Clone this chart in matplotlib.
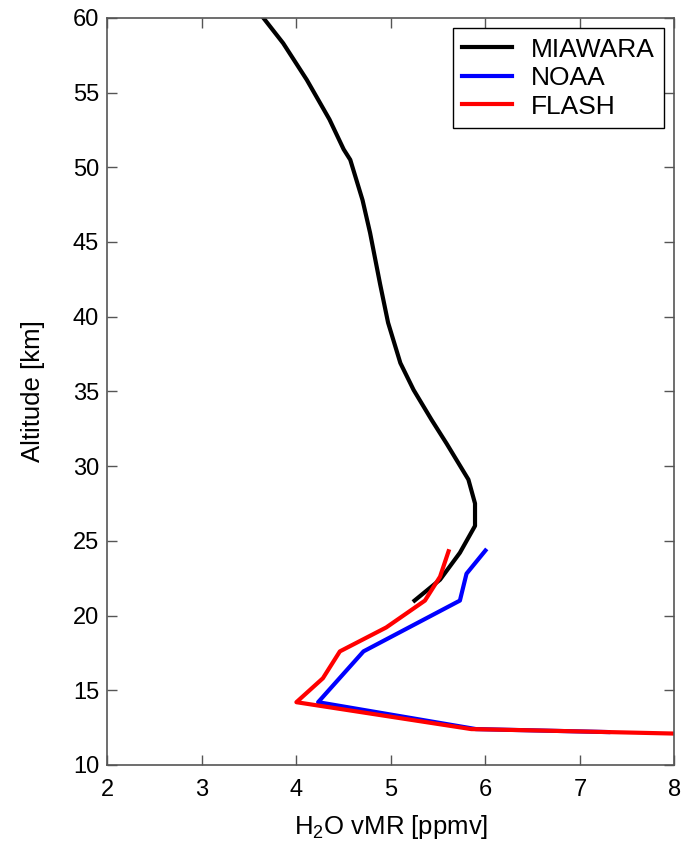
import matplotlib
matplotlib.use('Agg')
import matplotlib.pyplot as plt

plt.rcParams['font.family'] = ['Liberation Sans', 'DejaVu Sans']
plt.rcParams['mathtext.default'] = 'regular'

# MIAWARA profile (altitude in km, H2O vmr in ppmv)
miawara_alt = [60, 58.3, 55.85, 53.2, 51.2, 50.5, 47.8, 45.6, 42.2, 39.6, 36.9, 35.1, 33.1, 31.5,
               29.1, 27.5, 26.0, 24.2, 22.4, 21.0]
miawara_h2o = [3.65, 3.86, 4.11, 4.35, 4.50, 4.57, 4.70, 4.78, 4.885, 4.97, 5.10, 5.24, 5.43, 5.59,
               5.82, 5.89, 5.89, 5.73, 5.52, 5.25]

# NOAA frost point hygrometer
noaa_alt = [24.35, 22.8, 21.0, 17.6, 14.2, 12.4, 12.3, 12.2]
noaa_h2o = [6.0, 5.80, 5.73, 4.71, 4.23, 5.9, 6.6, 7.3]

# FLASH
flash_alt = [24.3, 22.6, 21.0, 19.2, 17.6, 15.8, 14.2, 12.4, 12.3, 12.2, 12.1]
flash_h2o = [5.61, 5.52, 5.36, 4.95, 4.46, 4.28, 4.0, 5.85, 6.6, 7.3, 8.0]

fig = plt.figure(figsize=(6.84, 8.49), dpi=100)
ax = fig.add_axes([0.157, 0.099, 0.829, 0.880])

ax.plot(miawara_h2o, miawara_alt, color='k', lw=3, label='MIAWARA')
ax.plot(noaa_h2o, noaa_alt, color='b', lw=3, label='NOAA')
ax.plot(flash_h2o, flash_alt, color='r', lw=3, label='FLASH')

ax.set_xlim(2, 8)
ax.set_ylim(10, 60)
ax.set_xticks(range(2, 9))
ax.set_yticks(range(10, 61, 5))
ax.tick_params(direction='in', length=7, width=1, labelsize=17, top=True, right=True,
               colors='#555555', labelcolor='black')
ax.tick_params(axis='x', pad=10)
ax.tick_params(axis='y', pad=6)
for s in ax.spines.values():
    s.set_color('#555555')
    s.set_linewidth(1.2)

ax.set_xlabel('H$_2$O vMR [ppmv]', fontsize=18.5, labelpad=9)
ax.set_ylabel('Altitude [km]', fontsize=18.5, labelpad=20)

leg = ax.legend(loc='upper right', fontsize=19, fancybox=False, framealpha=1,
                edgecolor='black', handlelength=1.9, labelspacing=0.17,
                borderaxespad=0.4, handletextpad=0.7, borderpad=0.35)
leg.get_frame().set_linewidth(1.0)

fig.savefig('out.png', dpi=100)
